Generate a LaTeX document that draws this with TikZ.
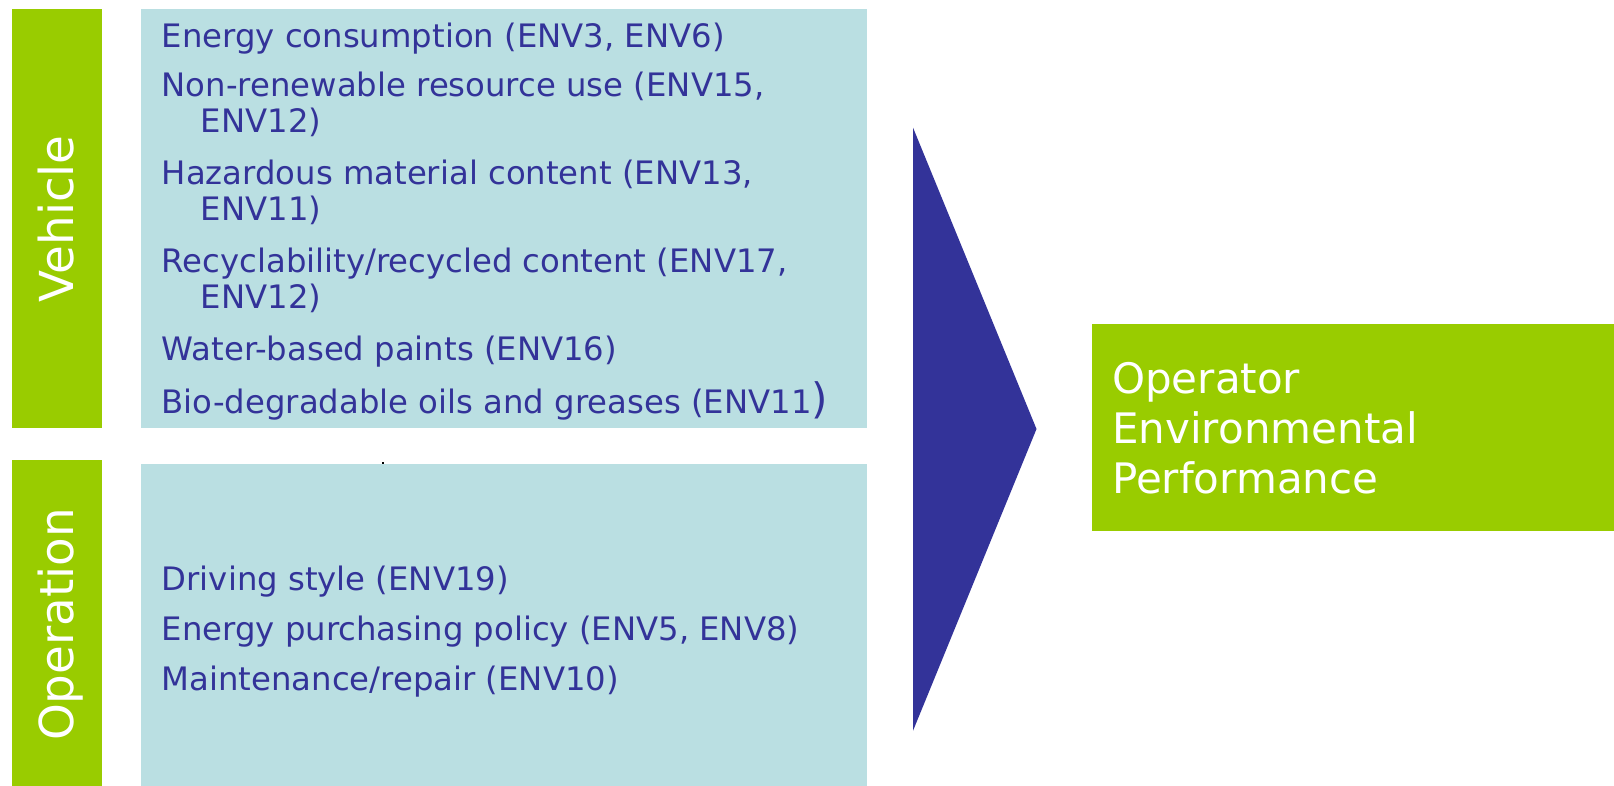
\documentclass[tikz,border=0pt]{standalone}
\usepackage{fontspec}
\setmainfont{DejaVu Sans}
\definecolor{lime}{HTML}{99CC00}
\definecolor{paleteal}{HTML}{BADFE2}
\definecolor{navy}{HTML}{333399}
\begin{document}
\begin{tikzpicture}[x=1pt,y=1pt,
  bar/.style={fill=lime, inner sep=0, outer sep=0, anchor=north west, minimum width=89.5},
  panel/.style={fill=paleteal, inner sep=0, outer sep=0, anchor=north west, minimum width=725.7},
  item/.style={anchor=base west, inner sep=0, text=navy, font=\fontsize{32.3}{38}\selectfont},
  sidelabel/.style={rotate=90, anchor=base, text=white, inner sep=0, font=\fontsize{46.8}{55}\selectfont},
  result/.style={fill=lime, inner sep=0, outer sep=0, anchor=north west},
  restext/.style={anchor=base west, inner sep=0, text=white, font=\fontsize{42}{50}\selectfont}]
\useasboundingbox (0,0) rectangle (1614,786);
\fill[white] (0,0) rectangle (1614,786);
% bars and panels
\node[bar, minimum height=418.9] (vbar) at (12.4,776.7) {};
\node[panel, minimum height=418.9] (vpanel) at (141,776.7) {};
\node[bar, minimum height=326] (obar) at (12.4,326) {};
\node[panel, minimum height=322] (opanel) at (141,322) {};
\node[sidelabel] (vlabel) at (73.5,567) {Vehicle};
\node[sidelabel] (olabel) at (73.5,161.5) {Operation};
% vehicle items
\node[item] (v1) at (161.6,738.5) {Energy consumption (ENV3, ENV6)};
\node[item] (v2a) at (161.6,689) {Non-renewable resource use (ENV15,};
\node[item] (v2b) at (200.6,653) {ENV12)};
\node[item] (v3a) at (161.6,601.5) {Hazardous material content (ENV13,};
\node[item] (v3b) at (200.6,565.5) {ENV11)};
\node[item] (v4a) at (161.6,513) {Recyclability/recycled content (ENV17,};
\node[item] (v4b) at (200.6,477) {ENV12)};
\node[item] (v5) at (161.6,425) {Water-based paints (ENV16)};
\node[item] (v6) at (161.6,372) {Bio-degradable oils and greases (ENV11{\fontsize{42}{42}\selectfont )}};
% operation items
\node[item] (o1) at (161.6,195) {Driving style (ENV19)};
\node[item] (o2) at (161.6,145.5) {Energy purchasing policy (ENV5, ENV8)};
\node[item] (o3) at (161.6,95.5) {Maintenance/repair (ENV10)};
% stray dot
\fill[black] (382,322) rectangle (384,324);
% arrow
\fill[navy] (913,658.4) -- (1036.5,357) -- (913,55.2) -- cycle;
% result
\node[result, minimum width=522, minimum height=207] (res) at (1092,462) {};
\node[restext] (r1) at (1112,392) {Operator};
\node[restext] (r2) at (1112,342.4) {Environmental};
\node[restext] (r3) at (1112,292) {Performance};
\end{tikzpicture}
\end{document}
